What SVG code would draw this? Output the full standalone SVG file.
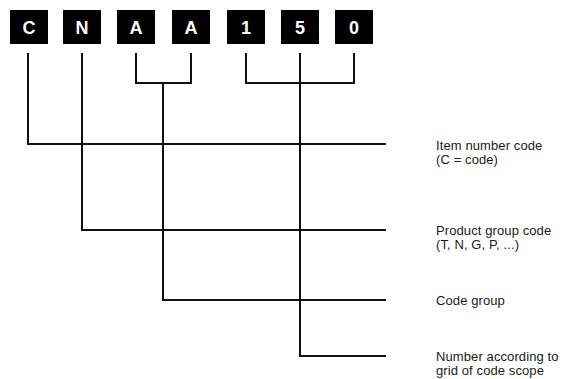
<svg xmlns="http://www.w3.org/2000/svg" width="565" height="379" viewBox="0 0 565 379">
  <style>
    .box { fill: #000; }
    .chr { fill: #fff; font-family: "Liberation Sans", Arial, sans-serif; font-weight: bold; font-size: 18px; text-anchor: middle; }
    .lbl { fill: #1a1a1a; font-family: "Liberation Sans", Arial, sans-serif; font-size: 13px; letter-spacing: 0.1px; }
    .wire { fill: none; stroke: #111; stroke-width: 2; stroke-linecap: square; stroke-linejoin: miter; }
  </style>
  <rect width="565" height="379" fill="#fff"/>

  <!-- code characters -->
  <g id="char-C"><rect class="box" x="10" y="10" width="38" height="34"/><text class="chr" x="29" y="33.5">C</text></g>
  <g id="char-N"><rect class="box" x="63" y="10" width="38" height="34"/><text class="chr" x="82" y="33.5">N</text></g>
  <g id="char-A1"><rect class="box" x="117" y="10" width="38" height="34"/><text class="chr" x="136" y="33.5">A</text></g>
  <g id="char-A2"><rect class="box" x="172" y="10" width="38" height="34"/><text class="chr" x="191" y="33.5">A</text></g>
  <g id="char-1"><rect class="box" x="227" y="10" width="38" height="34"/><text class="chr" x="246" y="33.5">1</text></g>
  <g id="char-5"><rect class="box" x="281" y="10" width="38" height="34"/><text class="chr" x="300" y="33.5">5</text></g>
  <g id="char-0"><rect class="box" x="335" y="10" width="38" height="34"/><text class="chr" x="354" y="33.5">0</text></g>

  <!-- connectors -->
  <g id="connectors" class="wire">
    <path d="M28 54 V144 H385"/>
    <path d="M82 54 V230 H385"/>
    <path d="M136 54 V83 H191 V54 M163 83 V300 H385"/>
    <path d="M246 54 V83 H354 V54 M300 54 V356 H385"/>
  </g>

  <!-- descriptions -->
  <g id="label-item"><text class="lbl" x="436" y="150">Item number code</text><text class="lbl" x="436" y="164">(C = code)</text></g>
  <g id="label-product"><text class="lbl" x="436" y="235">Product group code</text><text class="lbl" x="436" y="249">(T, N, G, P, ...)</text></g>
  <g id="label-codegroup"><text class="lbl" x="436" y="305">Code group</text></g>
  <g id="label-number"><text class="lbl" x="436" y="361">Number according to</text><text class="lbl" x="436" y="375">grid of code scope</text></g>
</svg>
